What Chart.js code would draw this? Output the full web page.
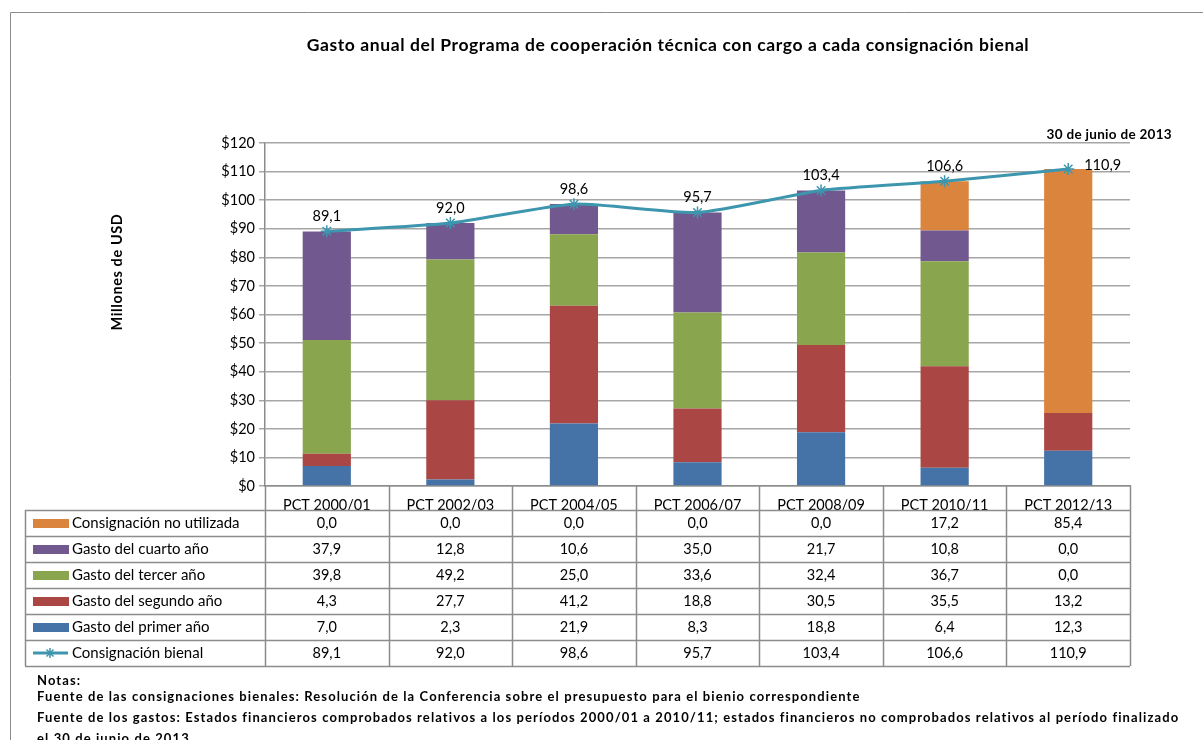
<!DOCTYPE html>
<html>
<head>
<meta charset="utf-8">
<script src="https://cdn.jsdelivr.net/npm/chart.js@4.4.1/dist/chart.umd.min.js"></script>
<style>
  html, body { margin: 0; padding: 0; background: #fff; }
  canvas { display: block; }
</style>
</head>
<body>
<canvas id="gasto-chart" width="1203" height="740"></canvas>
<script>
// data
const categories = ["PCT 2000/01", "PCT 2002/03", "PCT 2004/05", "PCT 2006/07", "PCT 2008/09", "PCT 2010/11", "PCT 2012/13"];
const noUtilizada = [0.0, 0.0, 0.0, 0.0, 0.0, 17.2, 85.4];
const cuartoAnio = [37.9, 12.8, 10.6, 35.0, 21.7, 10.8, 0.0];
const tercerAnio = [39.8, 49.2, 25.0, 33.6, 32.4, 36.7, 0.0];
const segundoAnio = [4.3, 27.7, 41.2, 18.8, 30.5, 35.5, 13.2];
const primerAnio = [7.0, 2.3, 21.9, 8.3, 18.8, 6.4, 12.3];
const bienal = [89.1, 92.0, 98.6, 95.7, 103.4, 106.6, 110.9];
const yTicks = [0, 10, 20, 30, 40, 50, 60, 70, 80, 90, 100, 110, 120];

const FONT = "Lato, 'Liberation Sans', sans-serif";
const COLORS = {
    orange: "#DB843D",
    purple: "#71588F",
    green: "#89A54E",
    red: "#AA4643",
    blue: "#4572A7",
    line: "#3D96AE",
};

const fmt = (v) => v.toFixed(1).replace(".", ",");

// rows of the data table, top to bottom
const tableRows = [
    { label: "Consignación no utilizada", values: noUtilizada, color: COLORS.orange },
    { label: "Gasto del cuarto año", values: cuartoAnio, color: COLORS.purple },
    { label: "Gasto del tercer año", values: tercerAnio, color: COLORS.green },
    { label: "Gasto del segundo año", values: segundoAnio, color: COLORS.red },
    { label: "Gasto del primer año", values: primerAnio, color: COLORS.blue },
    { label: "Consignación bienal", values: bienal, color: COLORS.line, isLine: true },
];

const barDataset = (label, data, color) => ({
    type: "bar",
    label: label,
    data: data,
    backgroundColor: color,
    stack: "gasto",
    categoryPercentage: 1,
    barPercentage: 0.39,
    order: 2,
});

/**
 * Draws title, notes, frame, line labels and the data table
 */
const decorations = {
    id: "decorations",
    afterDatasetsDraw(chart) {
        const ctx = chart.ctx;
        ctx.save();

        // labels on the line points
        ctx.fillStyle = "#000";
        ctx.font = "14.5px " + FONT;
        ctx.textBaseline = "middle";
        const meta = chart.getDatasetMeta(5);
        meta.data.forEach((pt, i) => {
            if (i === bienal.length - 1) {
                ctx.textAlign = "left";
                ctx.fillText(fmt(bienal[i]), pt.x + 16, pt.y - 4);
            } else {
                ctx.textAlign = "center";
                ctx.fillText(fmt(bienal[i]), pt.x, pt.y - 15);
            }
        });
        ctx.restore();
    },
    afterDraw(chart) {
        const ctx = chart.ctx;
        const x = chart.scales.x;
        const area = chart.chartArea;
        ctx.save();

        // frame
        ctx.strokeStyle = "#8c8c8c";
        ctx.lineWidth = 1;
        ctx.beginPath();
        ctx.moveTo(10.5, 740);
        ctx.lineTo(10.5, 12.5);
        ctx.lineTo(1203, 12.5);
        ctx.stroke();

        // title
        ctx.fillStyle = "#000";
        ctx.textAlign = "center";
        ctx.textBaseline = "middle";
        ctx.font = "bold 17.5px " + FONT;
        ctx.letterSpacing = "0.6px";
        ctx.fillText("Gasto anual del Programa de cooperación técnica con cargo a cada consignación bienal", 668, 45);

        ctx.font = "bold 13.5px " + FONT;
        ctx.letterSpacing = "0.3px";
        ctx.textAlign = "right";
        ctx.fillText("30 de junio de 2013", 1172, 135);

        // axis title
        ctx.save();
        ctx.translate(117, 272);
        ctx.rotate(-Math.PI / 2);
        ctx.textAlign = "center";
        ctx.font = "bold 14.5px " + FONT;
        ctx.letterSpacing = "0.6px";
        ctx.fillText("Millones de USD", 0, 0);
        ctx.restore();
        ctx.letterSpacing = "0px";

        // data table
        const rowH = 26;
        const top = area.bottom + 24;
        const left = 25;
        const half = (x.getPixelForValue(1) - x.getPixelForValue(0)) / 2;
        const colEdges = categories.map((c, i) => x.getPixelForValue(i) - half);
        colEdges.push(area.right);

        ctx.strokeStyle = "#8c8c8c";
        ctx.lineWidth = 1.5;
        ctx.beginPath();
        colEdges.forEach((cx) => {
            ctx.moveTo(Math.round(cx) + 0.5, area.bottom);
            ctx.lineTo(Math.round(cx) + 0.5, top + rowH * tableRows.length);
        });
        ctx.moveTo(left + 0.5, top);
        ctx.lineTo(left + 0.5, top + rowH * tableRows.length);
        for (let r = 0; r <= tableRows.length; r++) {
            const ry = Math.round(top + r * rowH) + 0.5;
            ctx.moveTo(left, ry);
            ctx.lineTo(area.right, ry);
        }
        ctx.stroke();

        tableRows.forEach((row, r) => {
            const cy = top + r * rowH + rowH / 2;
            // legend key
            if (row.isLine) {
                ctx.strokeStyle = row.color;
                ctx.lineWidth = 3;
                ctx.beginPath();
                ctx.moveTo(33, cy);
                ctx.lineTo(68, cy);
                ctx.stroke();
                ctx.lineWidth = 1.5;
                ctx.beginPath();
                const s = 5;
                ctx.moveTo(50 - s, cy); ctx.lineTo(50 + s, cy);
                ctx.moveTo(50, cy - s); ctx.lineTo(50, cy + s);
                ctx.moveTo(50 - s * 0.7, cy - s * 0.7); ctx.lineTo(50 + s * 0.7, cy + s * 0.7);
                ctx.moveTo(50 - s * 0.7, cy + s * 0.7); ctx.lineTo(50 + s * 0.7, cy - s * 0.7);
                ctx.stroke();
            } else {
                ctx.fillStyle = row.color;
                ctx.fillRect(33, cy - 4, 36, 9);
            }
            ctx.fillStyle = "#000";
            ctx.font = "15px " + FONT;
            ctx.textAlign = "left";
            ctx.fillText(row.label, 72, cy);

            ctx.font = "14.5px " + FONT;
            ctx.textAlign = "center";
            row.values.forEach((v, i) => {
                ctx.fillText(fmt(v), x.getPixelForValue(i), cy);
            });
        });

        // notes
        ctx.fillStyle = "#000";
        ctx.textAlign = "left";
        ctx.font = "bold 13px " + FONT;
        ctx.letterSpacing = "1.1px";
        ctx.fillText("Notas:", 37, 681);
        ctx.fillText("Fuente de las consignaciones bienales: Resolución de la Conferencia sobre el presupuesto para el bienio correspondiente", 37, 697);
        ctx.fillText("Fuente de los gastos: Estados financieros comprobados relativos a los períodos 2000/01 a 2010/11; estados financieros no comprobados relativos al período finalizado", 37, 718);
        ctx.fillText("el 30 de junio de 2013", 37, 739);
        ctx.letterSpacing = "0px";

        ctx.restore();
    },
};

const element = document.getElementById("gasto-chart");

const chart = new Chart(element, {
    data: {
        labels: categories,
        datasets: [
            barDataset("Gasto del primer año", primerAnio, COLORS.blue),
            barDataset("Gasto del segundo año", segundoAnio, COLORS.red),
            barDataset("Gasto del tercer año", tercerAnio, COLORS.green),
            barDataset("Gasto del cuarto año", cuartoAnio, COLORS.purple),
            barDataset("Consignación no utilizada", noUtilizada, COLORS.orange),
            {
                type: "line",
                label: "Consignación bienal",
                data: bienal,
                borderColor: COLORS.line,
                backgroundColor: COLORS.line,
                borderWidth: 3,
                tension: 0.2,
                pointStyle: "star",
                pointRadius: 6,
                pointBorderWidth: 1.5,
                pointBorderColor: COLORS.line,
                order: 1,
            },
        ],
    },
    options: {
        responsive: false,
        animation: false,
        devicePixelRatio: 1,
        layout: {
            padding: { left: 0, right: 73, top: 143, bottom: 230 },
        },
        plugins: {
            legend: { display: false },
            title: { display: false },
            tooltip: { enabled: false },
        },
        scales: {
            x: {
                stacked: true,
                grid: { display: false },
                border: { color: "#8c8c8c", width: 1.5 },
                ticks: { color: "#000", font: { family: FONT, size: 14.5 }, padding: 3, maxRotation: 0 },
                afterFit: (s) => { s.height = 24; },
            },
            y: {
                stacked: true,
                min: 0,
                max: 120,
                afterBuildTicks: (s) => { s.ticks = yTicks.map((v) => ({ value: v })); },
                grid: { color: "#a6a6a6", lineWidth: 1.5, tickLength: 6 },
                border: { color: "#8c8c8c", width: 1.5 },
                ticks: {
                    color: "#000",
                    font: { family: FONT, size: 14.5 },
                    padding: 4,
                    callback: (v) => "$" + v,
                },
                afterFit: (s) => { s.width = 265; },
            },
        },
    },
    plugins: [decorations],
});
</script>
</body>
</html>
